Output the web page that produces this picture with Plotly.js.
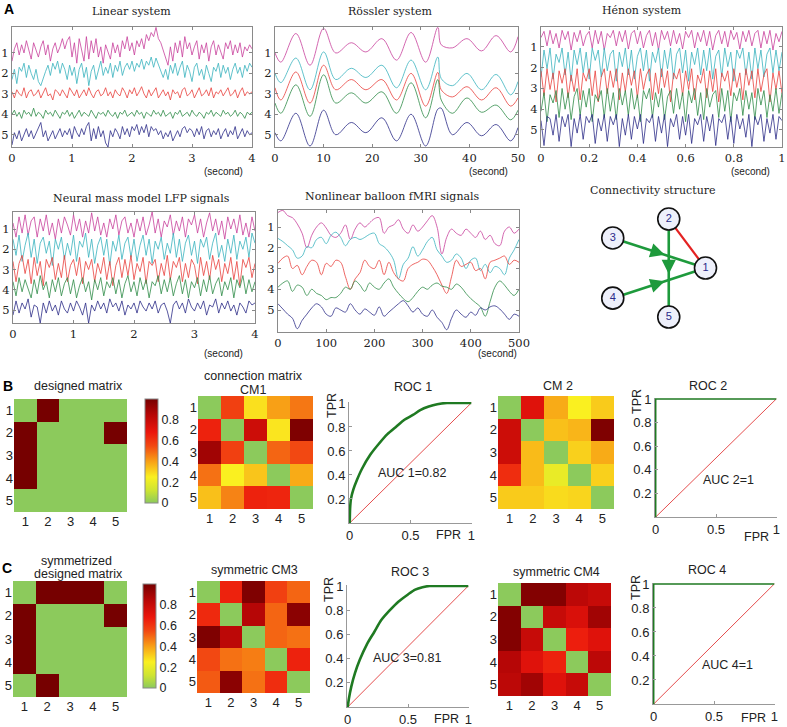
<!DOCTYPE html>
<html>
<head>
<meta charset="utf-8">
<script src="https://cdn.plot.ly/plotly-3.0.1.min.js"></script>
<style>
  html, body { margin: 0; padding: 0; background: #fff; }
  #fig { width: 787px; height: 727px; }
</style>
</head>
<body>
<div id="fig"></div>
<script>
/* ---------- Panel A: simulated signals ---------- */
const CHANNELS = ['1', '2', '3', '4', '5'];

/* Linear system: deviation from lane, positive = up, every 0.04 s */
const LIN_BASE = [1, 2, 3, 4, 5];
const LIN_1 = [-0.4,0.2,0.5,-0.1,0.4,0.0,0.6,0.1,-0.3,0.5,
  0.2,-0.2,0.3,0.6,-0.1,0.4,-0.4,0.2,0.5,0.0,
  0.3,0.7,0.2,0.6,0.8,-0.2,0.5,-0.5,0.7,0.1,
  -0.4,0.8,-0.3,0.6,0.0,0.7,-0.2,0.3,-0.5,0.4,
  0.1,-0.3,0.5,0.0,0.4,-0.2,0.6,0.2,0.8,0.1,
  0.5,-0.1,0.6,0.3,0.7,0.2,0.9,0.6,1.0,0.8,
  1.25,0.7,0.5,0.1,-0.3,-0.6,0.3,-0.4,0.5,0.0,
  0.6,-0.2,0.8,0.2,0.5,-0.1,0.3,0.6,-0.3,0.4,
  0.0,0.5,-0.4,0.3,0.6,-0.1,0.4,0.1,-0.3,0.5,
  0.2,0.6,-0.1,0.4,0.0,0.5,-0.2,0.3,0.1,0.4,0.2];
const LIN_2 = [-0.3,0.2,-0.5,0.3,0.1,0.5,-0.2,0.4,0.0,-0.3,
  0.2,-0.4,-0.6,-0.2,0.1,0.4,-0.1,0.5,0.2,0.6,
  0.0,0.5,0.2,-0.3,0.4,-0.1,0.3,-0.5,0.2,0.5,
  -0.2,0.3,-0.6,0.1,0.4,-0.3,0.2,0.6,-0.1,0.3,
  0.0,0.5,-0.2,0.4,0.1,0.6,-0.1,0.3,0.5,0.2,
  0.6,0.1,0.5,0.3,0.7,0.2,0.6,0.4,0.8,0.3,
  0.75,0.4,0.1,-0.2,0.2,-0.3,0.4,0.0,0.5,-0.1,
  0.3,0.6,-0.2,0.4,0.1,-0.4,0.3,0.5,-0.1,0.2,
  -0.3,0.4,0.0,-0.4,0.3,0.1,0.5,-0.2,0.4,0.0,
  0.3,-0.3,0.2,0.5,0.0,0.3,-0.2,0.4,0.1,0.5,0.3];
const LIN_3 = [0.1,-0.2,0.2,0.0,-0.1,0.3,-0.2,0.1,0.2,-0.1,
  0.0,0.2,-0.2,0.1,0.3,-0.1,0.0,-0.3,0.2,0.1,
  -0.1,0.2,0.0,-0.2,0.3,0.1,-0.1,0.2,-0.2,0.0,
  0.2,-0.1,0.3,0.0,-0.2,0.1,0.2,-0.1,0.0,0.3,
  -0.1,0.1,-0.2,0.2,0.0,-0.1,0.3,0.1,-0.2,0.2,
  0.0,0.3,-0.1,0.1,0.35,0.0,-0.2,0.2,-0.1,0.1,
  0.3,-0.2,0.0,0.2,-0.1,0.1,-0.3,0.2,0.0,0.1,
  -0.2,0.2,0.3,-0.1,0.0,0.2,-0.2,0.1,0.3,-0.1,
  0.0,0.2,-0.1,0.3,-0.2,0.1,0.0,0.2,-0.1,0.1,
  0.3,-0.1,0.0,0.2,-0.2,0.1,0.3,-0.1,0.1,0.0,0.1];
const LIN_4 = [0.0,0.2,-0.1,0.1,-0.2,0.2,0.0,0.1,-0.1,0.3,
  -0.1,0.1,0.0,-0.2,0.2,0.0,0.1,-0.1,0.2,0.0,
  -0.2,0.1,0.0,0.2,-0.1,0.1,-0.2,0.0,0.2,-0.1,
  0.1,0.0,-0.1,0.2,0.0,-0.2,0.1,0.0,0.1,-0.1,
  0.2,0.0,-0.1,0.1,-0.2,0.1,0.0,0.2,-0.1,0.0,
  0.1,-0.1,0.2,0.0,0.1,-0.2,0.1,0.0,-0.1,0.2,
  0.0,0.1,-0.1,0.2,-0.1,0.0,0.1,-0.2,0.1,0.0,
  0.2,-0.1,0.0,0.1,-0.1,0.2,0.0,-0.1,0.1,0.0,
  -0.2,0.1,0.0,0.2,-0.1,0.1,0.0,-0.1,0.2,0.0,
  0.1,-0.1,0.0,0.2,-0.1,0.1,0.0,-0.2,0.1,0.0,0.1];
const LIN_5 = [-0.5,0.1,-0.2,0.2,-0.3,0.0,0.3,-0.1,0.2,-0.2,
  0.1,0.3,0.6,-0.1,0.2,-0.3,0.0,0.2,-0.2,0.1,
  0.3,-0.1,0.2,0.0,0.3,-0.2,0.4,0.1,-0.1,0.3,
  0.0,0.4,0.6,-0.3,0.3,-0.2,0.4,-0.1,0.2,-0.4,
  -0.6,0.2,-0.1,0.3,0.1,-0.2,0.4,0.0,0.3,-0.1,
  0.4,0.2,0.5,0.0,0.4,0.1,0.5,-0.1,0.4,0.2,
  0.3,0.0,0.2,-0.2,0.1,-0.1,0.2,-0.3,0.0,0.2,
  -0.1,0.3,0.4,0.1,0.3,0.2,-0.1,0.3,0.0,0.4,
  -0.2,0.2,0.3,-0.1,0.2,0.0,0.3,-0.2,0.1,0.3,
  -0.1,0.2,0.0,0.4,-0.2,0.1,0.3,-0.1,0.2,0.0,0.1];

/* Rössler system: lane positions at peaks and troughs */
const RS_T = [0, 1.2, 4.3, 7.2, 10, 12.5, 15.7, 18.7, 22, 25, 28, 31, 33.5, 34.2, 36.5, 39.5, 42.5, 45.5, 48.5, 50];
const RS_1 = [1.0, 1.45, 0.05, 1.6, -0.2, 1.0, 0.5, 0.95, 0.3, 1.35, 0.0, 1.45, -0.25, 0.6, 0.75, 0.3, 0.9, 0.15, 0.95, 0.2];
const RS_2 = [2.0, 2.45, 1.25, 2.8, 0.95, 2.3, 1.75, 2.2, 1.6, 2.7, 1.35, 2.8, 1.2, 2.25, 2.6, 2.0, 2.8, 2.05, 3.05, 2.4];
const RS_3 = [2.7, 3.3, 1.93, 3.45, 1.6, 2.8, 2.3, 2.8, 2.3, 3.3, 2.0, 3.6, 1.95, 2.8, 3.15, 2.65, 3.3, 2.7, 3.6, 3.2];
const RS_4 = [3.45, 3.95, 2.56, 4.1, 2.07, 3.45, 2.95, 3.45, 2.9, 3.95, 2.46, 4.17, 2.3, 3.3, 3.95, 3.2, 3.9, 3.55, 4.27, 3.8];
const RS_5 = [4.9, 5.3, 3.95, 5.55, 3.8, 5.0, 4.4, 4.9, 4.17, 5.3, 4.0, 5.55, 3.75, 3.7, 5.0, 4.4, 5.05, 4.5, 5.3, 4.65];

/* Hénon system: deviation from lane, positive = up */
const HEN_BASE = [0.65, 1.85, 2.85, 3.8, 4.95];
const HEN_1 = [0.1,0.4,-0.3,0.45,-0.2,0.3,-0.4,0.45,0.0,0.4,
  -0.5,0.35,-0.1,0.45,-0.3,0.2,0.4,-0.4,0.45,-0.2,
  0.4,-0.5,0.3,0.1,0.45,-0.3,0.4,-0.1,0.45,-0.45,
  0.3,0.45,-0.2,0.4,-0.4,0.2,0.45,-0.3,0.35,-0.5,
  0.45,0.0,0.4,-0.3,0.45,-0.2,0.3,-0.45,0.4,0.1,
  0.45,-0.4,0.35,-0.1,0.45,-0.3,0.4,-0.5,0.2,0.45,
  -0.2,0.4,-0.35,0.45,0.0,0.35,-0.45,0.4,-0.1,0.45,
  -0.3,0.3,0.45,-0.4,0.4,-0.2,0.45,-0.5,0.3,-0.1,0.4];
const HEN_2 = [-0.6,0.7,-0.2,0.8,-0.7,0.5,0.1,0.8,-0.5,0.6,
  -0.8,0.7,0.0,0.8,-0.4,0.6,-0.7,0.8,0.2,0.7,
  -0.6,0.8,-0.3,0.5,0.7,-0.8,0.6,-0.1,0.8,-0.5,
  0.7,-0.7,0.4,0.8,-0.3,0.7,-0.8,0.6,0.1,0.8,
  -0.6,0.7,-0.2,0.8,-0.7,0.5,0.8,-0.4,0.7,-0.8,
  0.6,0.0,0.8,-0.5,0.7,-0.3,0.8,-0.7,0.4,0.7,
  -0.6,0.8,-0.1,0.6,-0.8,0.7,0.3,0.8,-0.5,0.6,
  -0.7,0.8,-0.2,0.7,-0.6,0.5,0.8,-0.4,0.7,-0.3,0.6];
const HEN_3 = [0.7,-0.5,0.8,-0.2,0.6,-0.8,0.7,0.1,0.8,-0.6,
  0.5,-0.3,0.8,-0.7,0.6,0.2,0.8,-0.5,0.7,-0.8,
  0.4,0.8,-0.4,0.7,-0.1,0.8,-0.7,0.6,-0.3,0.8,
  0.0,0.7,-0.6,0.8,-0.2,0.5,0.8,-0.7,0.6,-0.4,
  0.8,-0.1,0.7,-0.8,0.6,0.3,0.8,-0.5,0.7,-0.2,
  0.8,-0.7,0.5,0.1,0.8,-0.6,0.7,-0.3,0.8,-0.8,
  0.6,0.2,0.7,-0.5,0.8,-0.1,0.6,-0.7,0.8,0.0,
  0.7,-0.6,0.8,-0.3,0.5,0.8,-0.8,0.6,-0.2,0.7,-0.4];
const HEN_4 = [-0.3,0.6,-0.8,0.5,0.1,0.7,-0.6,0.8,-0.2,0.6,
  -0.7,0.4,0.8,-0.5,0.7,-0.1,0.8,-0.8,0.5,0.2,
  0.7,-0.6,0.8,-0.3,0.6,-0.7,0.8,0.0,0.7,-0.5,
  0.8,-0.2,0.5,-0.8,0.7,0.3,0.8,-0.6,0.6,-0.1,
  0.8,-0.7,0.4,0.7,-0.4,0.8,-0.2,0.6,-0.8,0.7,
  0.1,0.8,-0.5,0.6,-0.7,0.8,-0.1,0.5,0.7,-0.6,
  0.8,-0.3,0.7,-0.8,0.6,0.2,0.8,-0.5,0.7,-0.2,
  0.6,-0.7,0.8,0.0,0.7,-0.6,0.5,-0.3,0.8,-0.4,0.6];
const HEN_5 = [0.4,-0.8,0.6,0.5,-0.3,0.7,-0.6,0.6,0.1,0.7,
  -0.85,0.5,-0.2,0.7,-0.5,0.6,0.3,0.7,-0.7,0.5,
  -0.1,0.7,-0.6,0.6,0.2,0.7,-0.85,0.5,-0.3,0.7,
  -0.5,0.6,0.0,0.7,-0.7,0.5,0.3,0.7,-0.6,0.6,
  -0.2,0.7,-0.85,0.5,0.1,0.7,-0.5,0.6,-0.3,0.7,
  -0.7,0.5,0.2,0.7,-0.6,0.6,-0.1,0.7,-0.8,0.5,
  0.3,0.7,-0.5,0.6,-0.7,0.7,0.0,0.5,-0.4,0.7,
  -0.85,0.6,0.2,0.7,-0.6,0.5,-0.2,0.7,-0.5,0.6,0.4];

/* Neural mass model LFP: deviation from lane, positive = up */
const NMM_BASE = [0.9, 2.0, 3.0, 3.9, 4.95];
const NMM_1 = [0.2,-0.5,0.5,-0.3,0.6,-0.4,0.3,0.5,-0.5,0.4,
  -0.2,0.6,-0.4,0.2,-0.6,0.4,-0.3,0.5,0.1,-0.4,
  0.6,-0.2,0.4,-0.5,0.3,-0.3,0.7,-0.2,0.5,-0.4,
  0.2,-0.5,0.4,-0.1,0.6,-0.4,0.3,0.5,-0.3,0.2,
  -0.5,0.4,-0.2,0.5,-0.4,0.1,0.75,-0.3,0.4,-0.5,
  0.3,0.0,0.6,-0.4,0.3,-0.2,0.5,-0.5,0.4,0.1,
  0.6,-0.3,0.4,-0.5,0.2,0.7,-0.2,0.4,-0.4,0.3,
  -0.6,0.5,-0.1,0.4,-0.3,0.6,-0.4,0.2,-0.5,0.5,-0.2];
const NMM_2 = [0.5,-0.3,0.7,-0.6,0.2,0.8,-0.4,0.5,-0.7,0.3,
  0.6,-0.2,0.4,-0.8,0.5,0.0,0.6,-0.5,0.3,-0.3,
  0.7,-0.6,0.4,0.1,0.8,-0.4,0.5,-0.7,0.2,0.6,
  -0.3,0.5,-0.8,0.4,-0.1,0.7,-0.5,0.3,0.6,-0.4,
  0.5,-0.6,0.2,0.7,-0.3,0.5,-0.7,0.4,0.0,0.6,
  -0.5,0.3,-0.2,0.8,-0.4,0.5,-0.6,0.3,0.7,-0.3,
  0.4,-0.7,0.5,0.1,0.6,-0.5,0.3,0.8,-0.4,0.2,
  -0.6,0.5,-0.2,0.7,-0.5,0.4,0.0,0.6,-0.4,0.8,0.3];
const NMM_3 = [0.4,-0.6,0.3,0.7,-0.2,0.5,-0.7,0.6,-0.3,0.4,
  -0.8,0.5,0.1,0.6,-0.5,0.3,-0.4,0.7,-0.6,0.2,
  0.5,-0.3,0.6,-0.7,0.4,0.0,0.5,-0.6,0.3,-0.2,
  0.6,-0.5,0.4,-0.8,0.2,0.6,-0.4,0.5,-0.3,0.7,
  -0.5,0.3,-0.1,0.6,-0.7,0.4,0.2,0.5,-0.6,0.3,
  -0.3,0.7,-0.5,0.4,0.1,0.6,-0.6,0.3,-0.4,0.5,
  0.2,-0.7,0.6,-0.3,0.4,-0.5,0.7,0.0,0.5,-0.6,
  0.3,-0.2,0.6,-0.5,0.4,-0.8,0.5,0.1,0.6,-0.4,0.3];
const NMM_4 = [0.3,-0.4,0.5,-0.2,0.4,0.0,-0.5,0.4,-0.3,0.6,
  -0.1,0.3,-0.5,0.4,-0.2,0.5,-0.4,0.2,0.5,-0.3,
  0.4,-0.5,0.1,0.5,-0.2,0.3,-0.6,0.4,-0.1,0.5,
  -0.4,0.3,0.0,0.5,-0.3,0.4,-0.5,0.2,0.6,-0.2,
  0.3,-0.4,0.5,-0.1,0.4,-0.5,0.3,0.1,0.6,-0.3,
  0.4,-0.2,0.5,-0.4,0.2,0.6,-0.3,0.4,-0.5,0.3,
  0.0,0.5,-0.4,0.4,-0.2,0.6,-0.3,0.2,0.5,-0.4,
  0.3,-0.1,0.5,-0.5,0.4,0.0,0.6,-0.3,0.4,-0.2,0.3];
const NMM_5 = [-0.3,0.4,-0.2,0.3,0.0,0.5,-0.4,0.2,0.1,-0.7,
  0.3,-0.2,0.4,-0.1,0.2,-0.3,0.4,0.0,-0.2,0.3,
  -0.1,0.4,0.1,-0.3,0.3,-0.7,0.2,-0.1,0.4,0.0,
  0.3,-0.2,0.5,0.1,0.3,-0.1,0.4,-0.3,0.2,0.0,
  0.3,-0.2,0.4,0.1,-0.1,0.3,0.0,0.4,-0.2,0.2,
  0.3,-0.1,-0.7,0.2,0.4,0.0,0.3,-0.2,0.5,0.1,
  -0.1,0.3,0.0,0.4,-0.3,0.2,0.1,0.5,-0.2,0.3,
  0.0,0.4,-0.1,0.2,-0.3,0.3,0.1,-0.2,0.4,0.2,0.3];

/* Nonlinear balloon fMRI: lane positions every 10 s */
const BAL_1 = [0.3,0.2,0.45,0.55,0.85,1.3,2.0,1.4,1.0,0.8,1.05,1.4,1.5,1.3,0.9,1.6,1.1,0.8,1.0,0.8,0.6,0.55,1.3,1.0,0.9,0.65,1.1,1.3,0.9,1.2,1.0,0.7,0.45,1.0,2.3,1.5,1.1,1.3,1.4,1.1,1.3,1.5,1.2,1.6,1.4,1.8,1.9,1.2,1.0,1.3,1.1];
const BAL_2 = [1.55,1.7,1.9,2.1,2.5,2.4,1.95,2.0,1.6,1.5,1.8,1.4,1.25,1.5,1.9,1.6,1.5,1.6,1.5,1.35,1.3,1.8,1.95,2.2,2.6,3.5,2.8,2.5,1.95,2.4,2.1,1.7,1.5,2.1,2.4,2.7,2.6,2.3,2.5,3.0,2.6,2.5,3.1,2.8,3.2,2.9,3.0,3.3,2.5,2.1,1.6];
const BAL_3 = [2.75,2.5,2.4,3.0,2.85,3.3,2.9,2.6,2.7,3.3,2.75,2.9,2.6,2.7,3.4,4.0,3.5,3.2,2.6,2.9,3.0,2.6,3.3,2.7,3.2,3.5,3.6,3.0,2.8,2.7,2.55,2.6,2.9,3.3,3.8,4.2,3.4,2.6,2.9,2.8,2.7,3.1,3.0,3.5,2.7,2.6,2.5,2.4,2.8,2.6,2.7];
const BAL_4 = [3.9,3.7,3.6,4.1,3.8,3.9,4.3,4.0,4.2,4.3,4.5,4.4,4.4,4.2,3.9,4.0,3.6,3.8,4.1,3.7,3.9,4.0,3.7,3.5,3.9,4.2,4.45,4.6,4.4,4.1,3.9,4.0,3.8,3.7,3.85,3.9,4.0,3.75,3.9,4.2,4.45,4.65,4.85,5.3,4.6,3.9,3.6,3.8,4.1,4.3,4.0];
const BAL_5 = [4.7,4.95,5.2,5.4,5.9,5.5,5.2,4.9,4.7,4.85,5.2,5.3,4.9,5.0,5.1,4.7,5.0,5.2,4.95,5.1,5.25,4.85,5.3,5.1,4.9,4.7,4.55,4.8,5.1,4.9,5.2,5.3,5.0,5.35,5.6,5.95,5.4,5.0,5.2,5.35,5.1,5.25,4.9,5.0,4.85,4.8,4.95,5.2,5.45,5.2,5.3];

/* Connectivity structure */
const NODE_ID = ['1', '2', '3', '4', '5'];
const NODE_X = [3.3, 2.25, 0.65, 0.65, 2.25];
const NODE_Y = [1.77, 3.17, 2.63, 0.91, 0.37];
const EDGE_FROM = [3, 4, 2, 2];
const EDGE_TO = [1, 1, 5, 1];
const EDGE_DIRECTED = [true, true, true, false];

/* ---------- Panels B, C: matrices and ROC ---------- */
const MAT_IDX = [1, 2, 3, 4, 5];
const DESIGN_B = [[0,1,0,0,0],[1,0,0,0,1],[1,0,0,0,0],[1,0,0,0,0],[0,0,0,0,0]];
const CM1 = [[0,0.57,0.28,0.4,0.47],[0.65,0,0.78,0.27,0.98],[0.9,0.57,0,0.5,0.55],[0.48,0.25,0.33,0,0.38],[0.34,0.45,0.65,0.64,0]];
const CM2 = [[0,0.72,0.38,0.25,0.32],[0.78,0,0.34,0.36,0.98],[0.78,0.35,0,0.31,0.38],[0.62,0.35,0.2,0,0.31],[0.32,0.32,0.29,0.3,0]];
const DESIGN_C = [[0,1,1,1,0],[1,0,0,0,1],[1,0,0,0,0],[1,0,0,0,0],[0,1,0,0,0]];
const CM3 = [[0,0.65,0.98,0.57,0.5],[0.63,0,0.85,0.5,0.95],[0.98,0.83,0,0.5,0.48],[0.55,0.48,0.46,0,0.65],[0.52,0.95,0.48,0.62,0]];
const CM4 = [[0,0.97,0.97,0.83,0.8],[0.97,0,0.8,0.74,0.9],[0.97,0.8,0,0.66,0.72],[0.85,0.72,0.65,0,0.83],[0.83,0.9,0.72,0.8,0]];
const CB_TICKS = [0, 0.2, 0.4, 0.6, 0.8];

const ROC1_FPR = [0,0.003,0.01,0.03,0.06,0.1,0.17,0.24,0.31,0.38,0.45,0.52,0.58,0.65,0.72,0.8,0.88,1];
const ROC1_TPR = [0,0.12,0.2,0.28,0.36,0.45,0.57,0.66,0.74,0.8,0.86,0.9,0.94,0.97,0.99,1,1,1];
const ROC2_FPR = [0, 0, 1];
const ROC2_TPR = [0, 1, 1];
const ROC3_FPR = [0,0.01,0.03,0.06,0.1,0.16,0.22,0.28,0.35,0.42,0.5,0.56,0.62,0.68,0.8,1];
const ROC3_TPR = [0,0.07,0.17,0.28,0.39,0.52,0.62,0.72,0.8,0.87,0.93,0.97,0.99,1,1,1];
const ROC4_FPR = [0, 0, 1];
const ROC4_TPR = [0, 1, 1];
const CHANCE = [0, 1];

/* ---------- helpers ---------- */
const W = 787, H = 727;
const xd = (a, b) => [a / W, b / W];
const yd = (a, b) => [1 - b / H, 1 - a / H];
const sfx = n => (n === 1 ? '' : String(n));

const SERIF = '"DejaVu Serif", serif';
const SANS = '"Liberation Sans", Arial, sans-serif';
const INK = '#222';
const SIG_COLORS = ['#c8409c', '#38b2be', '#e8403c', '#2e8c48', '#2c2c88'];
const ROC_GREEN = '#1f7a22';
const CMAP = [
  [0, 'rgb(140,202,92)'], [0.12, 'rgb(205,228,50)'], [0.25, 'rgb(250,240,32)'],
  [0.4, 'rgb(248,160,22)'], [0.55, 'rgb(242,72,18)'], [0.68, 'rgb(236,22,12)'],
  [0.85, 'rgb(182,6,6)'], [1, 'rgb(118,0,0)']
];

const traces = [];
const layout = {
  width: W, height: H,
  margin: { l: 0, r: 0, t: 0, b: 0 },
  paper_bgcolor: '#fff', plot_bgcolor: 'rgba(0,0,0,0)',
  showlegend: false, annotations: []
};

function ann(text, x, y, font, extra) {
  layout.annotations.push(Object.assign({
    text: text, xref: 'paper', yref: 'paper', x: x / W, y: 1 - y / H,
    xanchor: 'center', yanchor: 'middle', showarrow: false, font: font
  }, extra || {}));
}

function lanes(base, devs) {
  return devs.map((d, i) => d.map(v => base[i] - v));
}

/* time-series panel */
function tsPanel(n, xdom, ydom, xr, xtv, xtt, yr, t, chans, shape) {
  layout['xaxis' + sfx(n)] = {
    domain: xdom, range: xr, anchor: 'y' + sfx(n), tickvals: xtv, ticktext: xtt,
    ticks: 'inside', ticklen: 3, tickcolor: '#888', showline: true, linecolor: '#8a8a8a',
    linewidth: 1, mirror: 'ticks', showgrid: false, zeroline: false,
    tickfont: { family: SERIF, size: 11.5, color: INK }
  };
  layout['yaxis' + sfx(n)] = {
    domain: ydom, range: yr, anchor: 'x' + sfx(n), tickvals: [1, 2, 3, 4, 5], ticktext: CHANNELS,
    ticks: 'inside', ticklen: 3, tickcolor: '#888', showline: true, linecolor: '#8a8a8a',
    linewidth: 1, mirror: 'ticks', showgrid: false, zeroline: false,
    tickfont: { family: SERIF, size: 11.5, color: INK }
  };
  chans.forEach((y, i) => traces.push({
    type: 'scatter', mode: 'lines', x: t, y: y, xaxis: 'x' + sfx(n), yaxis: 'y' + sfx(n),
    line: { color: SIG_COLORS[i], width: 0.8, shape: shape || 'linear', smoothing: 1 },
    hoverinfo: 'skip'
  }));
}

/* heatmap panel */
function matPanel(n, xdom, ydom, z, cb) {
  const ax = { showgrid: false, zeroline: false, showline: false, ticks: '',
    tickvals: MAT_IDX, tickfont: { family: SANS, size: 13, color: INK } };
  layout['xaxis' + sfx(n)] = Object.assign({ domain: xdom, range: [0.5, 5.5], anchor: 'y' + sfx(n) }, ax);
  layout['yaxis' + sfx(n)] = Object.assign({ domain: ydom, range: [5.5, 0.5], anchor: 'x' + sfx(n) }, ax);
  const tr = {
    type: 'heatmap', z: z, x: MAT_IDX, y: MAT_IDX, xaxis: 'x' + sfx(n), yaxis: 'y' + sfx(n),
    colorscale: CMAP, zmin: 0, zmax: 1, showscale: !!cb, hoverinfo: 'skip'
  };
  if (cb) {
    tr.colorbar = {
      x: cb.x / W, xanchor: 'left', y: 1 - cb.yc / H, yanchor: 'middle',
      len: cb.len, lenmode: 'pixels', thickness: 13, thicknessmode: 'pixels',
      outlinewidth: 1, outlinecolor: '#888', xpad: 0, ypad: 0, ticks: '',
      tickvals: CB_TICKS, ticktext: CB_TICKS.map(String),
      tickfont: { family: SANS, size: 12.5, color: INK }
    };
  }
  traces.push(tr);
}

/* ROC panel */
function rocPanel(n, xdom, ydom, fpr, tpr, width) {
  layout['xaxis' + sfx(n)] = {
    domain: xdom, range: [-0.006, 1.006], anchor: 'y' + sfx(n), tickvals: [0, 0.5, 1], ticktext: ['0', '0.5', '1'],
    ticks: 'inside', ticklen: 3, tickcolor: '#999', showline: true, linecolor: '#999', linewidth: 1,
    showgrid: false, zeroline: false, tickfont: { family: SANS, size: 13, color: INK }
  };
  layout['yaxis' + sfx(n)] = {
    domain: ydom, range: [0, 1.008], anchor: 'x' + sfx(n), tickvals: [0.2, 0.4, 0.6, 0.8, 1],
    ticktext: ['0.2', '0.4', '0.6', '0.8', '1'],
    ticks: 'inside', ticklen: 3, tickcolor: '#999', showline: true, linecolor: '#999', linewidth: 1,
    showgrid: false, zeroline: false, tickfont: { family: SANS, size: 13, color: INK }
  };
  traces.push({ type: 'scatter', mode: 'lines', x: CHANCE, y: CHANCE, xaxis: 'x' + sfx(n), yaxis: 'y' + sfx(n),
    line: { color: '#e23a3a', width: 0.9 }, hoverinfo: 'skip' });
  traces.push({ type: 'scatter', mode: 'lines', x: fpr, y: tpr, xaxis: 'x' + sfx(n), yaxis: 'y' + sfx(n),
    line: { color: ROC_GREEN, width: width, shape: width > 2 ? 'spline' : 'linear', smoothing: 0.8 }, hoverinfo: 'skip' });
}

/* ---------- A ---------- */
const LIN_T = LIN_1.map((_, i) => i * 0.04);
const HEN_T = HEN_1.map((_, i) => i * 0.0125);
const NMM_T = NMM_1.map((_, i) => i * 0.05);
const BAL_T = BAL_1.map((_, i) => i * 10);

tsPanel(1, xd(12, 252), yd(27, 147), [0, 4], [0, 1, 2, 3, 4], ['0', '1', '2', '3', '4'], [5.6, -0.27],
  LIN_T, lanes(LIN_BASE, [LIN_1, LIN_2, LIN_3, LIN_4, LIN_5]));
tsPanel(2, xd(275, 518), yd(27, 147), [0, 50], [0, 10, 20, 30, 40, 50], ['0', '10', '20', '30', '40', '50'], [5.6, -0.27],
  RS_T, [RS_1, RS_2, RS_3, RS_4, RS_5], 'spline');
tsPanel(3, xd(541, 782), yd(27, 147), [0, 1], [0, 0.2, 0.4, 0.6, 0.8, 1], ['0', '0.2', '0.4', '0.6', '0.8', '1'], [5.82, 0.04],
  HEN_T, lanes(HEN_BASE, [HEN_1, HEN_2, HEN_3, HEN_4, HEN_5]));
tsPanel(4, xd(13, 255), yd(212, 323), [0, 4], [0, 1, 2, 3, 4], ['0', '1', '2', '3', '4'], [5.64, 0.16],
  NMM_T, lanes(NMM_BASE, [NMM_1, NMM_2, NMM_3, NMM_4, NMM_5]));
tsPanel(5, xd(278, 519), yd(210, 332), [0, 500], [0, 100, 200, 300, 400, 500], ['0', '100', '200', '300', '400', '500'], [6.06, 0.18],
  BAL_T, [BAL_1, BAL_2, BAL_3, BAL_4, BAL_5], 'spline');

/* connectivity graph */
layout.xaxis6 = { domain: xd(590, 730), range: [0, 4], visible: false, anchor: 'y6' };
layout.yaxis6 = { domain: yd(190, 330), range: [0, 4], visible: false, anchor: 'x6' };
EDGE_FROM.forEach((f, k) => {
  const a = f - 1, b = EDGE_TO[k] - 1;
  const col = EDGE_DIRECTED[k] ? '#1e9a3c' : '#e42222';
  traces.push({ type: 'scatter', mode: 'lines', x: [NODE_X[a], NODE_X[b]], y: [NODE_Y[a], NODE_Y[b]],
    xaxis: 'x6', yaxis: 'y6', line: { color: col, width: EDGE_DIRECTED[k] ? 2.6 : 2.2 }, hoverinfo: 'skip' });
  if (EDGE_DIRECTED[k]) {
    const dx = NODE_X[b] - NODE_X[a], dy = NODE_Y[b] - NODE_Y[a];
    layout.annotations.push({
      xref: 'x6', yref: 'y6', axref: 'x6', ayref: 'y6',
      x: NODE_X[a] + dx * 0.56, y: NODE_Y[a] + dy * 0.56,
      ax: NODE_X[a] + dx * 0.4, ay: NODE_Y[a] + dy * 0.4,
      text: '', showarrow: true, arrowhead: 2, arrowsize: 1.1, arrowwidth: 2.6, arrowcolor: '#1e9a3c'
    });
  }
});
traces.push({ type: 'scatter', mode: 'markers+text', x: NODE_X, y: NODE_Y, text: NODE_ID,
  xaxis: 'x6', yaxis: 'y6', textposition: 'middle center',
  textfont: { family: SANS, size: 11, color: '#2a2a8a' },
  marker: { size: 22, color: '#eef0fb', line: { color: '#111', width: 1.6 } }, hoverinfo: 'skip' });

/* ---------- B ---------- */
matPanel(7, xd(14, 127), yd(399, 512), DESIGN_B, { x: 145, yc: 451, len: 104 });
matPanel(8, xd(198, 313), yd(396, 509), CM1);
rocPanel(9, xd(349, 472), yd(402, 523), ROC1_FPR, ROC1_TPR, 2.6);
matPanel(10, xd(498, 614), yd(396, 509), CM2);
rocPanel(11, xd(655, 777), yd(398, 517), ROC2_FPR, ROC2_TPR, 1.5);

/* ---------- C ---------- */
matPanel(12, xd(13, 127), yd(581, 697), DESIGN_C, { x: 143, yc: 636, len: 104 });
matPanel(13, xd(197, 310), yd(581, 693), CM3);
rocPanel(14, xd(347, 469), yd(585, 707), ROC3_FPR, ROC3_TPR, 2.6);
matPanel(15, xd(498, 611), yd(583, 696), CM4);
rocPanel(16, xd(653, 775), yd(583, 704), ROC4_FPR, ROC4_TPR, 1.5);

/* ---------- text ---------- */
const fT = { family: SERIF, size: 11, color: INK };
const fS = { family: SANS, size: 12.5, color: INK };
const fSec = { family: SANS, size: 10, color: INK };
const fBold = { family: SANS, size: 14, color: '#000' };

ann('<b>A</b>', 9, 9, fBold);
ann('Linear system', 131, 11, fT);
ann('Rössler system', 390, 12, fT);
ann('Hénon system', 642, 10, fT);
ann('(second)', 223, 172, fSec);
ann('(second)', 488, 172, fSec);
ann('(second)', 750, 172, fSec);
ann('Neural mass model LFP signals', 141, 198, fT);
ann('Nonlinear balloon fMRI signals', 392, 196, fT);
ann('(second)', 223, 353, fSec);
ann('(second)', 497, 353, fSec);
ann('Connectivity structure', 653, 190, fT);

ann('<b>B</b>', 8, 386, fBold);
ann('designed matrix', 78, 386, fS);
ann('connection matrix', 253, 376, fS);
ann('CM1', 253, 390, fS);
ann('ROC 1', 413, 387, fS);
ann('CM 2', 558, 386, fS);
ann('ROC 2', 708, 386, fS);
ann('AUC 1=0.82', 412, 473, fS);
ann('AUC 2=1', 728, 480, fS);
ann('FPR', 448, 535, fS);
ann('FPR', 756, 537, fS);
ann('TPR', 332, 406, fS, { textangle: -90 });
ann('TPR', 637, 402, fS, { textangle: -90 });

ann('<b>C</b>', 7, 568, fBold);
ann('symmetrized', 76, 561, fS);
ann('designed matrix', 78, 574, fS);
ann('symmetric CM3', 255, 570, fS);
ann('ROC 3', 410, 572, fS);
ann('symmetric CM4', 556, 572, fS);
ann('ROC 4', 707, 570, fS);
ann('AUC 3=0.81', 407, 658, fS);
ann('AUC 4=1', 727, 665, fS);
ann('FPR', 447, 719, fS);
ann('FPR', 753, 718, fS);
ann('TPR', 329, 590, fS, { textangle: -90 });
ann('TPR', 636, 588, fS, { textangle: -90 });

Plotly.newPlot('fig', traces, layout, { displayModeBar: false, staticPlot: true });
</script>
</body>
</html>
